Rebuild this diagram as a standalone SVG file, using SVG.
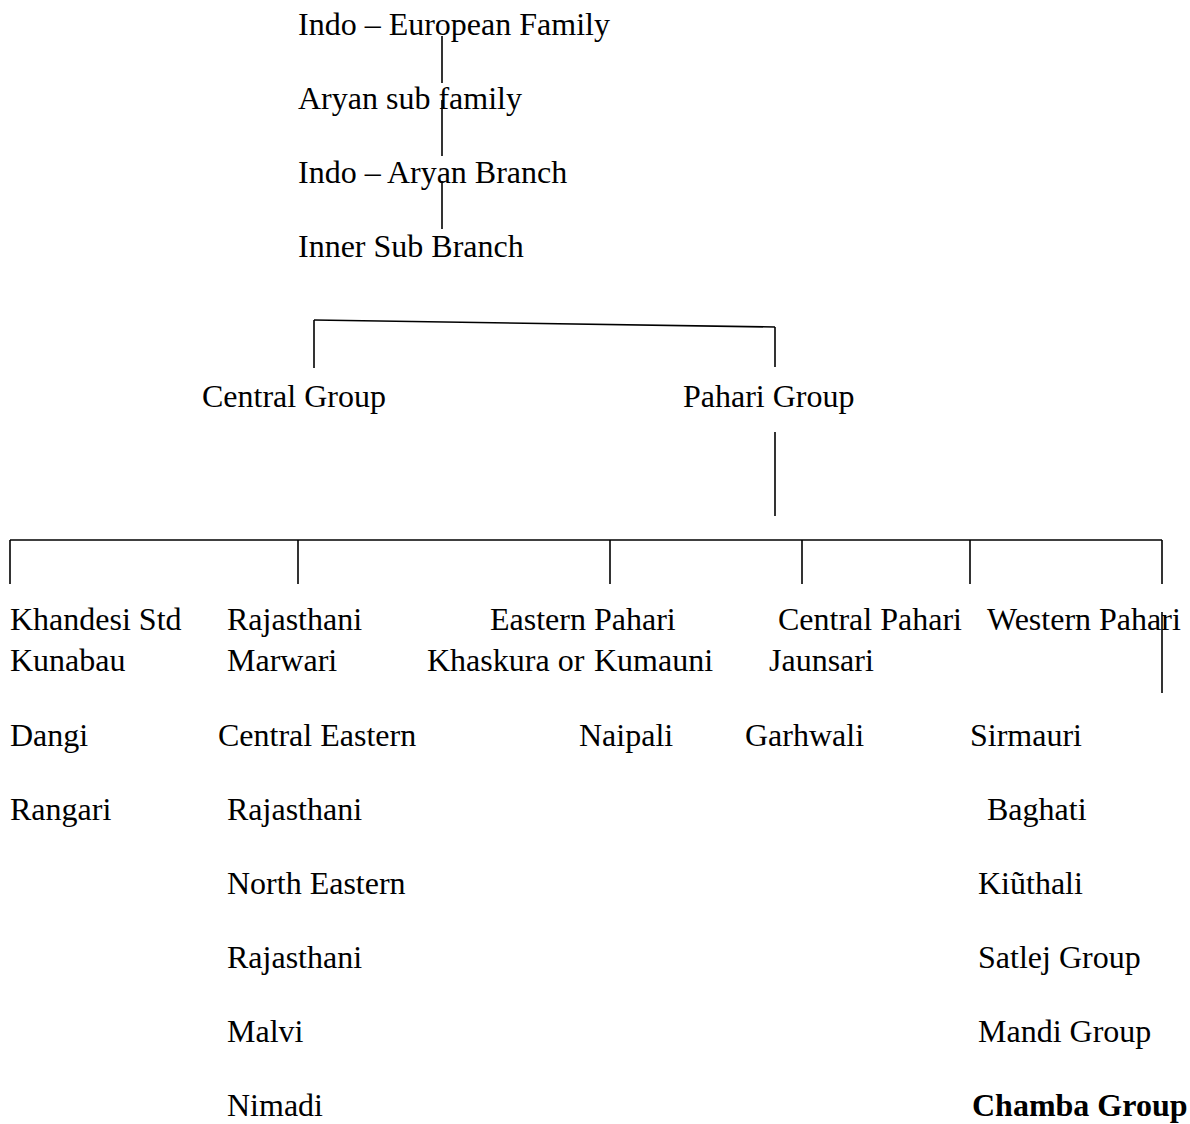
<svg xmlns="http://www.w3.org/2000/svg" width="1190" height="1124" viewBox="0 0 1190 1124">
  <style>
    text { font-family: "Liberation Serif", "Times New Roman", serif; font-size: 32px; fill: #000; }
    .bold { font-weight: bold; }
    .link { stroke: #000; stroke-width: 1.6; fill: none; }
  </style>
  <rect width="1190" height="1124" fill="#fff"/>

  <!-- connectors -->
  <g id="connectors" class="link">
    <line x1="442" y1="36" x2="442" y2="83"/>
    <line x1="442" y1="100" x2="442" y2="156"/>
    <line x1="442" y1="181" x2="442" y2="229"/>
    <line x1="314" y1="320" x2="775" y2="327"/>
    <line x1="314" y1="320" x2="314" y2="368"/>
    <line x1="775" y1="327" x2="775" y2="367"/>
    <line x1="775" y1="432" x2="775" y2="516"/>
    <line x1="10" y1="540" x2="1162" y2="540"/>
    <line x1="10" y1="540" x2="10" y2="584"/>
    <line x1="298" y1="540" x2="298" y2="584"/>
    <line x1="610" y1="540" x2="610" y2="584"/>
    <line x1="802" y1="540" x2="802" y2="584"/>
    <line x1="970" y1="540" x2="970" y2="584"/>
    <line x1="1162" y1="540" x2="1162" y2="584"/>
    <line x1="1162" y1="612" x2="1162" y2="693"/>
  </g>

  <!-- upper chain -->
  <g id="indo-european"><text x="298" y="35">Indo – European Family</text></g>
  <g id="aryan-sub-family"><text x="298" y="109">Aryan sub family</text></g>
  <g id="indo-aryan-branch"><text x="298" y="183">Indo – Aryan Branch</text></g>
  <g id="inner-sub-branch"><text x="298" y="257">Inner Sub Branch</text></g>

  <g id="central-group"><text x="202" y="407">Central Group</text></g>
  <g id="pahari-group"><text x="683" y="407">Pahari Group</text></g>

  <!-- first column -->
  <g id="khandesi">
    <text x="10" y="630">Khandesi Std</text>
    <text x="10" y="671">Kunabau</text>
    <text x="10" y="746">Dangi</text>
    <text x="10" y="820">Rangari</text>
  </g>

  <!-- second column -->
  <g id="rajasthani">
    <text x="227" y="630">Rajasthani</text>
    <text x="227" y="671">Marwari</text>
    <text x="218" y="746">Central Eastern</text>
    <text x="227" y="820">Rajasthani</text>
    <text x="227" y="894">North Eastern</text>
    <text x="227" y="968">Rajasthani</text>
    <text x="227" y="1042">Malvi</text>
    <text x="227" y="1116">Nimadi</text>
  </g>

  <!-- third column -->
  <g id="eastern-pahari">
    <text x="490" y="630">Eastern Pahari</text>
    <text x="427" y="671">Khaskura or</text>
    <text x="594" y="671">Kumauni</text>
    <text x="579" y="746">Naipali</text>
  </g>

  <!-- fourth column -->
  <g id="central-pahari">
    <text x="778" y="630">Central Pahari</text>
    <text x="769" y="671">Jaunsari</text>
    <text x="745" y="746">Garhwali</text>
  </g>

  <!-- fifth column -->
  <g id="western-pahari">
    <text x="987" y="630">Western Pahari</text>
    <text x="970" y="746">Sirmauri</text>
    <text x="987" y="820">Baghati</text>
    <text x="978" y="894">Kiũthali</text>
    <text x="978" y="968">Satlej Group</text>
    <text x="978" y="1042">Mandi Group</text>
    <text x="972" y="1116" class="bold">Chamba Group</text>
  </g>
</svg>
